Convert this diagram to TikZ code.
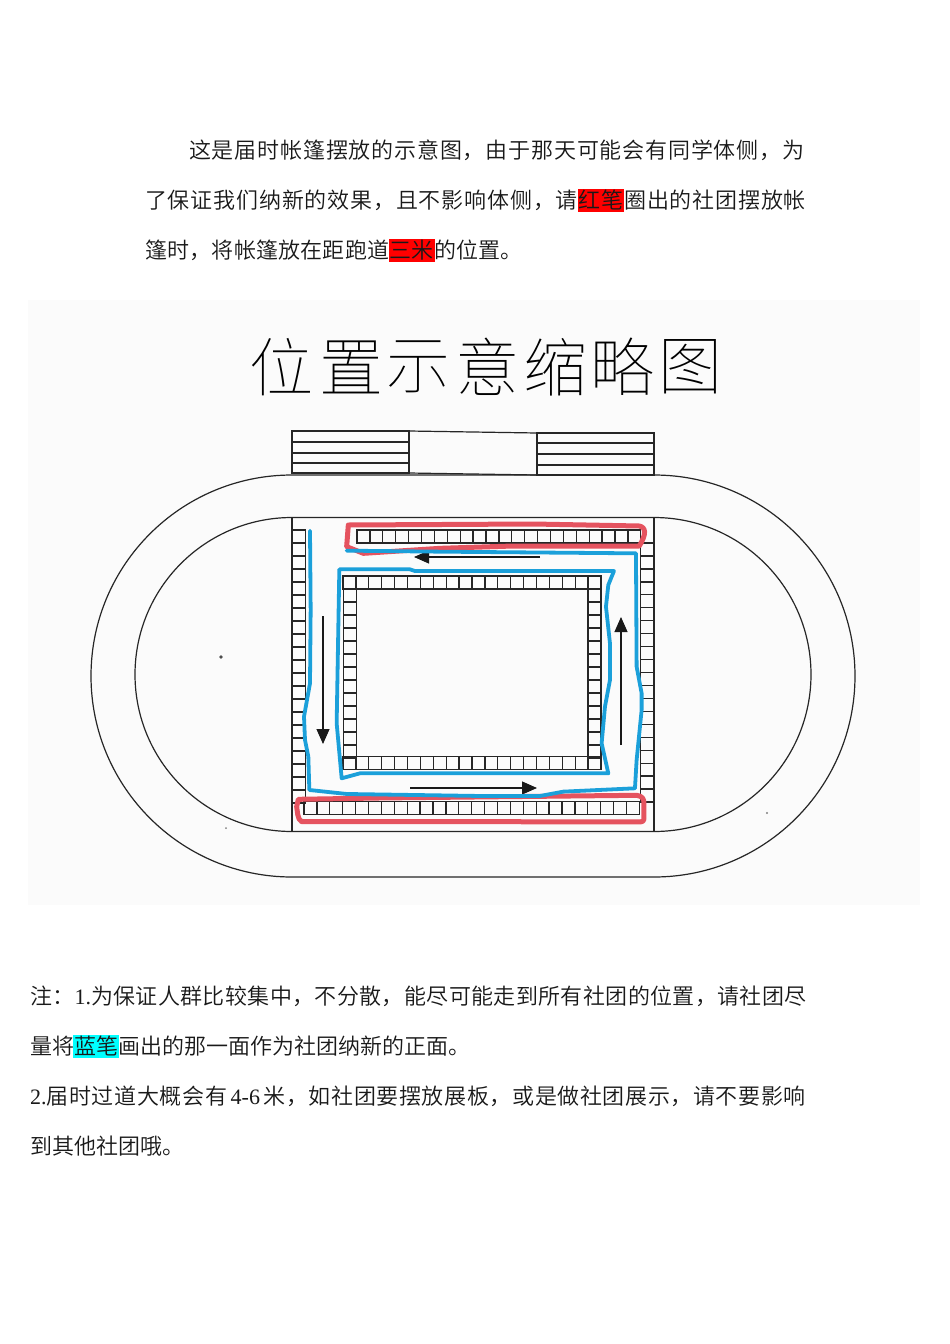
\documentclass[tikz,border=0pt]{standalone}
\usepackage{fontspec}
\setmainfont{Liberation Serif}
\newfontfamily\cjkb[LetterSpace=3.7]{Noto Sans CJK SC DemiLight}
\newfontfamily\cjkc{Noto Sans CJK SC DemiLight}
\newfontfamily\cjkd[LetterSpace=1]{Noto Sans CJK SC DemiLight}
\newfontfamily\cjke[LetterSpace=1.7]{Noto Sans CJK SC DemiLight}
\newfontfamily\cjkf[LetterSpace=2.8]{Noto Sans CJK SC DemiLight}
\newfontfamily\cjkt{Noto Sans CJK SC Thin}
\usetikzlibrary{arrows.meta}
\definecolor{bluepen}{HTML}{1BA0DA}
\definecolor{redpen}{HTML}{E5535F}
\definecolor{hlred}{RGB}{255,0,0}
\definecolor{hlcyan}{RGB}{0,255,255}
\tikzset{
  x=1pt,y=-1pt,
  bodytext/.style={anchor=west,inner sep=0pt,text=black!90,font=\fontsize{22}{24}\selectfont},
  titlechar/.style={inner sep=0pt,font=\fontsize{64}{66}\cjkt},
  ink/.style={draw=black!85,line width=1.2pt},
  cell/.style={draw=black!85,line width=1.3pt},
  flow/.style={draw=black!90,line width=1.1pt,-{Triangle[length=15pt,width=13pt]}},
  bluestroke/.style={draw=bluepen,line width=3.8pt,line join=round,line cap=round},
  redstroke/.style={draw=redpen,line width=5pt,line join=round,line cap=round},
}
\newcommand{\hcells}[4]{% x0,y,n,size
  \foreach \i in {0,...,\numexpr#3-1\relax}{\draw[cell] ({#1+\i*#4},#2) rectangle ++(#4,#4);}}
\newcommand{\vcells}[4]{% x,y0,n,size
  \foreach \i in {0,...,\numexpr#3-1\relax}{\draw[cell] (#1,{#2+\i*#4}) rectangle ++(#4,#4);}}
\begin{document}
\begin{tikzpicture}
\useasboundingbox (0,0) rectangle (950,1344);
\fill[white] (0,0) rectangle (950,1344);
% highlights
\fill[hlred] (578,189) rectangle (624,212);
\fill[hlred] (389,239) rectangle (435,262);
\fill[hlcyan] (73,1035) rectangle (119,1058);
% paragraph
\node[bodytext] (p1) at (189,150) {\cjkb 这是届时帐篷摆放的示意图，由于那天可能会有同学体侧，为};
\node[bodytext] (p2) at (145,200) {\cjkb 了保证我们纳新的效果，且不影响体侧，请红笔圈出的社团摆放帐};
\node[bodytext] (p3) at (145,250) {\cjkd 篷时，将帐篷放在距跑道三米的位置。};
\node[bodytext] (n1) at (30,996) {\cjke 注：\rmfamily 1.\cjke 为保证人群比较集中，不分散，能尽可能走到所有社团的位置，请社团尽};
\node[bodytext] (n2) at (30,1046) {\cjkc 量将蓝笔画出的那一面作为社团纳新的正面。};
\node[bodytext] (n3) at (30,1096) {\rmfamily 2.\cjkf 届时过道大概会有\,\rmfamily 4-6\,\cjkf 米，如社团要摆放展板，或是做社团展示，请不要影响};
\node[bodytext] (n4) at (30,1146) {\cjkc 到其他社团哦。};
% scanned picture ground
\fill[black!1.5] (28,300) rectangle (920,905);
% title
\node[titlechar] (t1) at (281,367) {位};
\node[titlechar] (t2) at (351,367) {置};
\node[titlechar] (t3) at (418,367) {示};
\node[titlechar] (t4) at (487,367) {意};
\node[titlechar] (t5) at (555,367) {缩};
\node[titlechar] (t6) at (622,367) {略};
\node[titlechar] (t7) at (690,367) {图};
% stands
\draw[ink] (292,431) rectangle (409,473);
\foreach \y in {442,453,463} \draw[ink] (292,\y) -- (409,\y);
\draw[ink] (537,433) rectangle (654,475);
\foreach \y in {443,454,465} \draw[ink] (537,\y) -- (654,\y);
\draw[ink] (409,431) -- (537,433);
\draw[ink] (409,473) -- (537,475);
% track
\draw[ink] (292,475) -- (654,475) arc[start angle=-90,end angle=90,radius=201] -- (292,877) arc[start angle=90,end angle=270,radius=201];
\draw[ink] (292,517.5) -- (654,517.5) arc[start angle=-90,end angle=90,radius=157] -- (292,831.5) arc[start angle=90,end angle=270,radius=157];
\draw[ink] (292,517.5) -- (292,831.5);
\draw[ink] (654,517.5) -- (654,831.5);
% specks
\fill[black!70] (221,657) circle (1.8);
\fill[black!50] (767,813) circle (1.2);
\fill[black!50] (226,828) circle (1);
% stalls
\vcells{292.5}{530}{21}{13}
\hcells{357}{530}{22}{12.9}
\vcells{640.5}{543}{20}{12.95}
\hcells{304}{801.5}{26}{12.9}
\hcells{343}{576}{20}{12.9}
\hcells{343}{756.5}{20}{12.9}
\vcells{343.5}{589}{13}{13}
\vcells{588}{589}{13}{13}
% arrows
\coordinate (aL1) at (323,616); \coordinate (aL2) at (323,744);
\coordinate (aR1) at (621,745); \coordinate (aR2) at (621,617);
\coordinate (aB1) at (410,788); \coordinate (aB2) at (537,788);
\coordinate (aT1) at (540,557); \coordinate (aT2) at (414,557);
\draw[flow] (aL1) -- (aL2);
\draw[flow] (aR1) -- (aR2);
\draw[flow] (aB1) -- (aB2);
\draw[flow] (aT1) -- (aT2);
% pen marks, given in the coordinates of a 3x crop
\begin{scope}[shift={(280,510)},x=0.3333pt,y=-0.3333pt]
\draw[redstroke] (205,45) -- (760,42) -- (1078,48) .. controls (1098,52) and (1100,72) .. (1078,108) -- (700,108) -- (480,115) -- (250,130) -- (200,110) -- cycle;
\draw[redstroke] (55,868) -- (300,864) -- (1070,856) .. controls (1088,858) and (1092,868) .. (1092,880) -- (1092,925) .. controls (1092,935) and (1085,936) .. (1075,936) -- (560,935) -- (65,935) .. controls (52,930) and (52,900) .. (50,890) -- cycle;
\draw[bluestroke] (90,62) -- (92,300) -- (90,520) -- (72,620) -- (75,690) -- (85,740) -- (88,840) -- (200,852) -- (400,855) -- (600,858) -- (780,858) -- (850,845) -- (1065,835) -- (1070,750) -- (1085,600) -- (1085,550) -- (1070,470) -- (1068,130) -- (480,125) -- (200,122);
\draw[bluestroke] (178,178) -- (390,178) -- (405,183) -- (1002,183) -- (985,225) -- (978,290) -- (990,400) -- (990,510) -- (975,590) -- (965,700) -- (985,790) -- (600,790) -- (240,790) -- (185,805) -- (170,640) -- cycle;
\end{scope}
\end{tikzpicture}
\end{document}
